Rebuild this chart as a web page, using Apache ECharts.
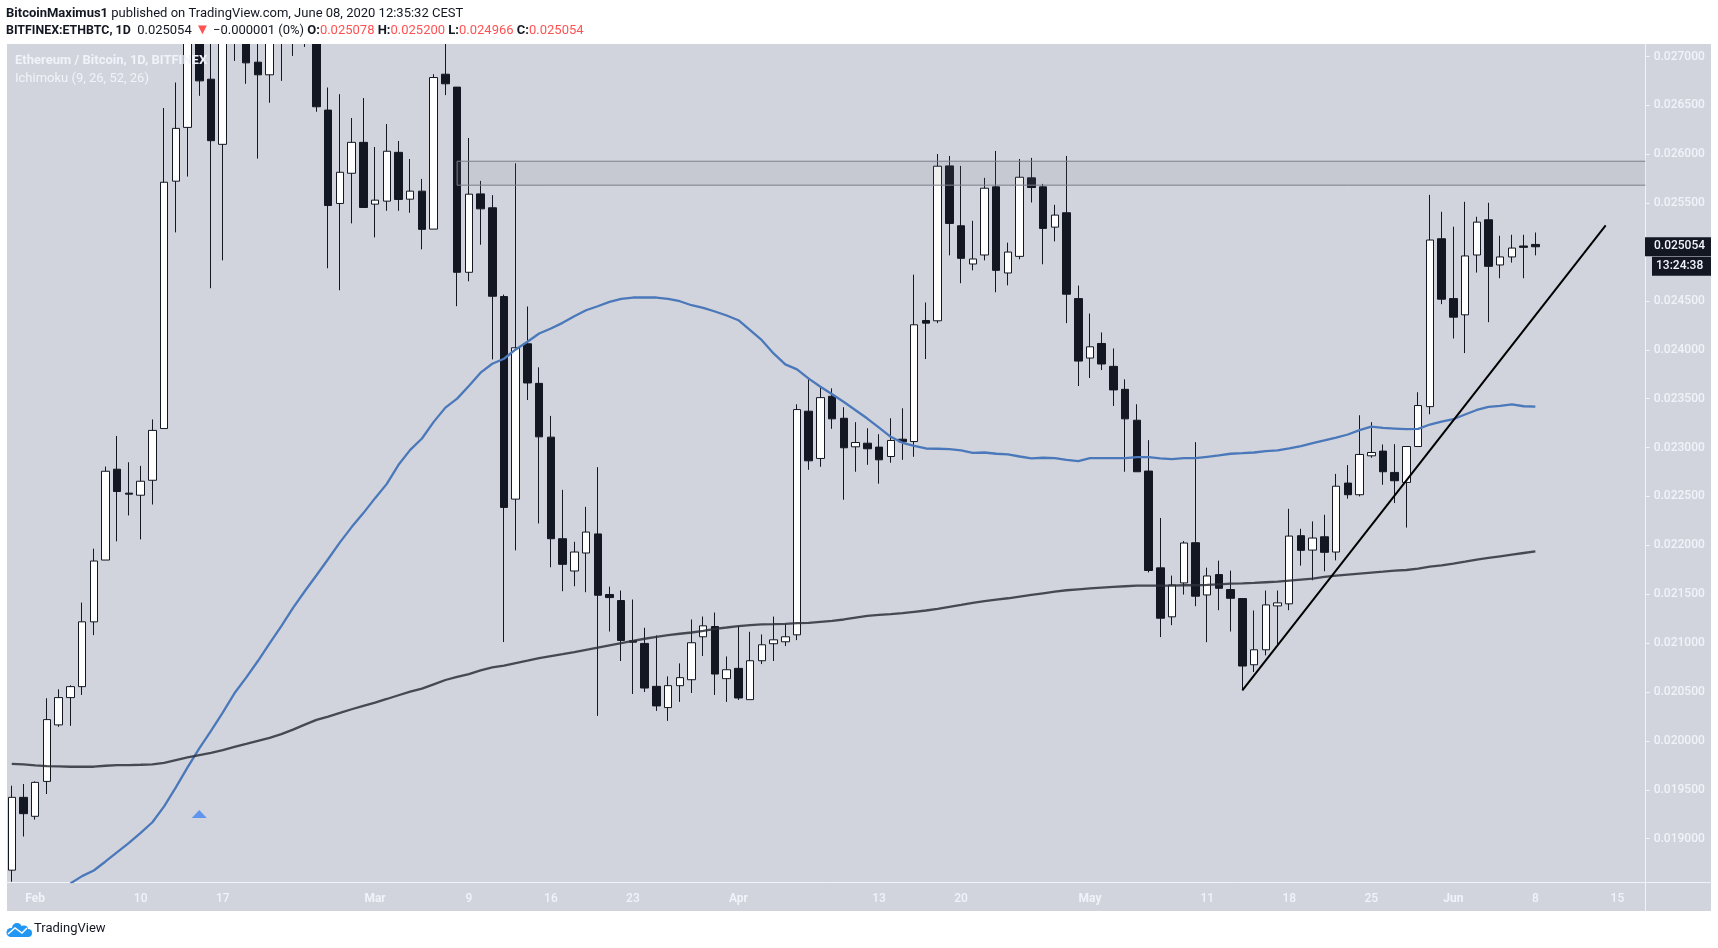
<!DOCTYPE html>
<html>
<head>
<meta charset="utf-8">
<title>ETHBTC 1D</title>
<script src="https://cdn.jsdelivr.net/npm/echarts@6/dist/echarts.min.js"></script>
<style>
html, body { margin: 0; padding: 0; background: #fff; }
#main { width: 1718px; height: 948px; }
</style>
</head>
<body>
<div id="main"></div>
<script>
// daily candles, 2020-01-30 to 2020-06-08. values above the top of the pane are estimates
const opens = [
    0.018678, 0.019423, 0.019229, 0.019586, 0.020164, 0.020443, 0.020555, 0.021218, 0.02185, 0.022779,
    0.022534, 0.022513, 0.022666, 0.023195, 0.025725, 0.026275, 0.0272, 0.026768, 0.026102, 0.0275,
    0.0275, 0.026942, 0.026813, 0.0273, 0.0275, 0.0274, 0.0274, 0.026452, 0.025497, 0.025806,
    0.026122, 0.02549, 0.025521, 0.02602, 0.025541, 0.025623, 0.025235, 0.026819, 0.026687, 0.024793,
    0.025595, 0.025453, 0.024545, 0.022473, 0.024062, 0.023657, 0.023107, 0.022068, 0.021738, 0.021922,
    0.022117, 0.021497, 0.021436, 0.021024, 0.020997, 0.020558, 0.020341, 0.020565, 0.020626, 0.021065,
    0.02117, 0.020637, 0.020742, 0.020422, 0.02082, 0.020994, 0.021014, 0.021085, 0.023372, 0.022889,
    0.023525, 0.0233, 0.023008, 0.023045, 0.023005, 0.022909, 0.023086, 0.023062, 0.0243, 0.024297,
    0.025881, 0.025269, 0.024878, 0.02497, 0.025667, 0.024786, 0.024956, 0.025759, 0.025667, 0.025255,
    0.025402, 0.024524, 0.023916, 0.024065, 0.023831, 0.023596, 0.02328, 0.02276, 0.02177, 0.021269,
    0.021616, 0.022027, 0.021493, 0.021701, 0.021548, 0.021456, 0.020779, 0.020932, 0.021381, 0.021402,
    0.022099, 0.021952, 0.022088, 0.021932, 0.022637, 0.022518, 0.022916, 0.022964, 0.022746, 0.022644,
    0.023011, 0.023419, 0.025136, 0.024524, 0.024358, 0.02497, 0.02533, 0.024868, 0.02495, 0.025062, 0.025078
];
const closes = [
    0.019423, 0.019256, 0.019576, 0.020218, 0.020443, 0.020555, 0.021218, 0.02184, 0.022758, 0.022551,
    0.022524, 0.022656, 0.023176, 0.025714, 0.026265, 0.0272, 0.026751, 0.026139, 0.0272, 0.0273,
    0.026935, 0.026813, 0.0272, 0.0275, 0.0274, 0.0276, 0.026486, 0.025476, 0.025816, 0.026122,
    0.025456, 0.025531, 0.026031, 0.025538, 0.025623, 0.025232, 0.026785, 0.026721, 0.024793, 0.025592,
    0.025442, 0.024548, 0.022388, 0.024021, 0.023661, 0.02311, 0.022068, 0.021806, 0.021932, 0.022136,
    0.02149, 0.021466, 0.021028, 0.02101, 0.020541, 0.020358, 0.020565, 0.020647, 0.021004, 0.021177,
    0.020684, 0.020728, 0.020439, 0.02082, 0.020983, 0.021034, 0.021065, 0.023389, 0.022865, 0.023511,
    0.023294, 0.022998, 0.023052, 0.022988, 0.022875, 0.023073, 0.023059, 0.024256, 0.024273, 0.025878,
    0.025293, 0.024936, 0.024929, 0.025653, 0.024813, 0.025, 0.025765, 0.02566, 0.025242, 0.025378,
    0.024569, 0.023885, 0.024031, 0.023855, 0.02359, 0.023294, 0.022753, 0.021743, 0.021255, 0.021595,
    0.022024, 0.02148, 0.021687, 0.021561, 0.021459, 0.020766, 0.020932, 0.021391, 0.021412, 0.022095,
    0.021949, 0.022075, 0.021929, 0.022605, 0.022518, 0.02293, 0.02295, 0.022753, 0.022661, 0.023011,
    0.02343, 0.025123, 0.024518, 0.024334, 0.02496, 0.025306, 0.024854, 0.02495, 0.025041, 0.025048, 0.025054
];
const highs = [
    0.019542, 0.019559, 0.019586, 0.020436, 0.020528, 0.020569, 0.021415, 0.021966, 0.022806, 0.023119,
    0.02285, 0.022813, 0.023288, 0.026473, 0.026734, 0.0274, 0.0274, 0.0274, 0.0274, 0.0278,
    0.0278, 0.0274, 0.0275, 0.0277, 0.0278, 0.0279, 0.0278, 0.026683, 0.026615, 0.026371,
    0.026575, 0.026075, 0.026309, 0.026136, 0.025952, 0.025748, 0.026819, 0.0274, 0.026687, 0.026167,
    0.025728, 0.025582, 0.024565, 0.025908, 0.024443, 0.023821, 0.023324, 0.022568, 0.022037, 0.022394,
    0.0228, 0.021578, 0.021538, 0.021446, 0.021157, 0.021079, 0.02066, 0.020793, 0.021242, 0.021272,
    0.021313, 0.020864, 0.021174, 0.021116, 0.021089, 0.021272, 0.021198, 0.023443, 0.023708, 0.023613,
    0.023606, 0.023413, 0.02326, 0.023198, 0.023137, 0.0233, 0.023402, 0.024769, 0.024484, 0.026003,
    0.025983, 0.025881, 0.02532, 0.025759, 0.026034, 0.025096, 0.025952, 0.025963, 0.025697, 0.025483,
    0.025983, 0.024657, 0.024371, 0.024178, 0.024014, 0.023698, 0.023443, 0.023076, 0.02228, 0.021691,
    0.022044, 0.023056, 0.021772, 0.021844, 0.021742, 0.021456, 0.021334, 0.021538, 0.021538, 0.022374,
    0.02217, 0.022245, 0.022313, 0.022731, 0.022821, 0.023331, 0.02326, 0.023032, 0.023035, 0.023011,
    0.023566, 0.025585, 0.025412, 0.025259, 0.025514, 0.025361, 0.025504, 0.025167, 0.025177, 0.025177, 0.0252
];
const lows = [
    0.01856, 0.019022, 0.019195, 0.019457, 0.020144, 0.020154, 0.02047, 0.021082, 0.02185, 0.022041,
    0.022306, 0.022061, 0.022418, 0.023195, 0.025201, 0.025772, 0.026598, 0.02463, 0.024915, 0.026955,
    0.026721, 0.025956, 0.026527, 0.026751, 0.027006, 0.027098, 0.026435, 0.024834, 0.024609, 0.025293,
    0.025456, 0.02515, 0.025422, 0.025422, 0.025402, 0.025028, 0.025235, 0.026605, 0.024446, 0.024701,
    0.025075, 0.023902, 0.021011, 0.021949, 0.023487, 0.022224, 0.021776, 0.021531, 0.021582, 0.021521,
    0.020256, 0.021119, 0.020817, 0.02048, 0.0205, 0.020307, 0.020205, 0.020399, 0.02049, 0.020868,
    0.02047, 0.020399, 0.020419, 0.020422, 0.020786, 0.020817, 0.02097, 0.021031, 0.022773, 0.022804,
    0.023192, 0.022467, 0.022753, 0.022824, 0.022631, 0.022845, 0.022875, 0.022906, 0.023906, 0.024273,
    0.024966, 0.024681, 0.024813, 0.024915, 0.024589, 0.02466, 0.024926, 0.025507, 0.024875, 0.025109,
    0.024273, 0.02363, 0.023712, 0.023793, 0.023426, 0.022753, 0.022753, 0.021723, 0.021062, 0.021184,
    0.021497, 0.021378, 0.02101, 0.021337, 0.021119, 0.020518, 0.020705, 0.020875, 0.020987, 0.021337,
    0.021793, 0.021643, 0.021735, 0.021847, 0.022478, 0.022501, 0.022896, 0.02262, 0.022433, 0.022182,
    0.023011, 0.023341, 0.024467, 0.024116, 0.023967, 0.02479, 0.024283, 0.024732, 0.024892, 0.024732, 0.024966
];

// the two moving averages, one value a day. the blue one starts below the pane
const blueLine = [
    null, null, null, null, null, 0.018542, 0.018617, 0.018675, 0.018767, 0.018862,
    0.018957, 0.019059, 0.019168, 0.019331, 0.019525, 0.019729, 0.019923, 0.020103, 0.02029, 0.020487,
    0.020647, 0.020817, 0.020997, 0.021174, 0.021361, 0.021531, 0.021694, 0.021861, 0.022031, 0.022187,
    0.02233, 0.022483, 0.022629, 0.022824, 0.022977, 0.023093, 0.023263, 0.023409, 0.023501, 0.02363,
    0.023766, 0.023858, 0.023909, 0.024004, 0.024082, 0.024167, 0.024218, 0.024276, 0.024344, 0.024405,
    0.024446, 0.02449, 0.024521, 0.024535, 0.024535, 0.024535, 0.024521, 0.024497, 0.024456, 0.024429,
    0.024392, 0.024351, 0.024303, 0.024201, 0.024099, 0.023963, 0.023851, 0.0238, 0.023705, 0.023623,
    0.023545, 0.023467, 0.023382, 0.023297, 0.023205, 0.02311, 0.023049, 0.023018, 0.022991, 0.022988,
    0.022984, 0.022971, 0.022947, 0.02295, 0.022937, 0.02293, 0.022909, 0.022889, 0.022896, 0.022892,
    0.022875, 0.022862, 0.022892, 0.022892, 0.022892, 0.022892, 0.022903, 0.022903, 0.022889, 0.022882,
    0.022892, 0.022892, 0.022906, 0.02292, 0.022937, 0.022943, 0.02295, 0.022964, 0.022971, 0.022991,
    0.023015, 0.023045, 0.023073, 0.023103, 0.023134, 0.023178, 0.023215, 0.023202, 0.023195, 0.023188,
    0.023192, 0.023236, 0.023266, 0.02329, 0.023338, 0.023385, 0.023416, 0.023426, 0.023443, 0.023423, 0.023419
];
const darkLine = [
    0.019766, 0.01976, 0.019749, 0.019742, 0.019739, 0.019736, 0.019736, 0.019736, 0.019746, 0.019753,
    0.019753, 0.019756, 0.01976, 0.019776, 0.019804, 0.019831, 0.019855, 0.019878, 0.019906, 0.01994,
    0.01997, 0.020001, 0.020031, 0.020069, 0.020116, 0.020167, 0.020215, 0.020249, 0.020286, 0.020324,
    0.020358, 0.020392, 0.020429, 0.020467, 0.020504, 0.020535, 0.020579, 0.020623, 0.020654, 0.020684,
    0.020722, 0.020752, 0.020769, 0.020796, 0.02082, 0.020847, 0.020868, 0.020888, 0.020909, 0.020932,
    0.020953, 0.020977, 0.021, 0.021024, 0.021045, 0.021065, 0.021082, 0.021096, 0.021109, 0.021126,
    0.021147, 0.02116, 0.021174, 0.021184, 0.021191, 0.021194, 0.021198, 0.021204, 0.021208, 0.021218,
    0.021228, 0.021242, 0.021262, 0.021279, 0.021289, 0.021296, 0.021306, 0.02132, 0.021334, 0.021351,
    0.021371, 0.021391, 0.021412, 0.021429, 0.021446, 0.021459, 0.021476, 0.021493, 0.02151, 0.021527,
    0.021541, 0.021551, 0.021561, 0.021568, 0.021575, 0.021582, 0.021589, 0.021589, 0.021589, 0.021589,
    0.021592, 0.021592, 0.021595, 0.021602, 0.021609, 0.021612, 0.021616, 0.021623, 0.021629, 0.02164,
    0.02165, 0.02166, 0.021677, 0.021691, 0.021701, 0.021711, 0.021721, 0.021731, 0.021742, 0.021748,
    0.021762, 0.021782, 0.021796, 0.021813, 0.021833, 0.021854, 0.021871, 0.021888, 0.021905, 0.021922, 0.021939
];

// drawings on top of the candles
const trendDates = ['2020-05-14', '2020-06-14'];
const trendValues = [0.020518, 0.025272];
const zoneStart = '2020-03-08';
const zoneTop = 0.025929;
const zoneBottom = 0.025684;
const markerDate = '2020-02-15';
const markerValue = 0.019253;

const tickDates = ['2020-02-01', '2020-02-10', '2020-02-17', '2020-03-01', '2020-03-09', '2020-03-16', '2020-03-23',
    '2020-04-01', '2020-04-13', '2020-04-20', '2020-05-01', '2020-05-11', '2020-05-18', '2020-05-25',
    '2020-06-01', '2020-06-08', '2020-06-15'];
const tickLabels = ['Feb', '10', '17', 'Mar', '9', '16', '23', 'Apr', '13', '20', 'May', '11', '18', '25', 'Jun', '8', '15'];
// 0.025000 sits under the price tag in the reference
const priceTicks = [0.019, 0.0195, 0.02, 0.0205, 0.021, 0.0215, 0.022, 0.0225, 0.023, 0.0235, 0.024, 0.0245, 0.0255, 0.026, 0.0265, 0.027];

const lastPrice = 0.025054;
const countdown = '13:24:38';

// categories run on past the last candle, to the right edge of the pane
const categories = [];
for (let i = 0; i < 140; i++) {
    categories.push(new Date(Date.UTC(2020, 0, 30 + i)).toISOString().slice(0, 10));
}
const candles = opens.map((o, i) => [o, closes[i], lows[i], highs[i]]);

const FONT = 'Roboto';
const DARK = '#131722';
const PANE = '#d1d4dc';
const AXIS_TEXT = '#f0f3fa';
const LOGO_BLUE = '#2196f3';

const chart = echarts.init(document.getElementById('main'));
const isTick = (index, value) => tickDates.includes(value);

chart.setOption({
    animation: false,
    backgroundColor: '#ffffff',
    textStyle: { fontFamily: FONT },
    title: {
        left: 6,
        top: 5,
        padding: 0,
        z: 6,
        text: '{b|BitcoinMaximus1} published on TradingView.com, June 08, 2020 12:35:32 CEST\n' +
            '{c|BITFINEX:ETHBTC, 1D}  0.025054 {tri|▼} −0.000001 (0%) {b|O:}{red|0.025078} {b|H:}{red|0.025200} {b|L:}{red|0.024966} {b|C:}{red|0.025054}',
        textStyle: {
            fontFamily: FONT,
            fontSize: 13,
            fontWeight: 'normal',
            color: DARK,
            lineHeight: 17,
            rich: {
                b: { fontFamily: FONT, fontSize: 13, fontWeight: 'bold', color: DARK, lineHeight: 17 },
                c: { fontFamily: FONT, fontSize: 12.4, fontWeight: 'bold', color: DARK, lineHeight: 17 },
                red: { fontFamily: FONT, fontSize: 13, color: '#ff5252', lineHeight: 17 },
                tri: { fontFamily: FONT, fontSize: 15, color: '#ff5252', lineHeight: 17 }
            }
        }
    },
    grid: { left: 5.9, right: 71.3, top: 44, bottom: 66 },
    xAxis: {
        type: 'category',
        data: categories,
        boundaryGap: true,
        axisLine: { onZero: false, lineStyle: { color: AXIS_TEXT, width: 1 } },
        axisTick: { interval: isTick, alignWithLabel: true, length: 4, lineStyle: { color: AXIS_TEXT } },
        axisLabel: {
            interval: isTick,
            margin: 11,
            color: AXIS_TEXT,
            fontSize: 12,
            fontWeight: 500,
            fontFamily: FONT,
            formatter: function (value) {
                const label = tickLabels[tickDates.indexOf(value)];
                return /\d/.test(label) ? label : '{m|' + label + '}';
            },
            rich: { m: { color: AXIS_TEXT, fontSize: 12, fontWeight: 'bold', fontFamily: FONT } }
        },
        splitLine: { show: false }
    },
    yAxis: {
        type: 'value',
        position: 'right',
        offset: -1,
        min: 0.018557,
        max: 0.027128,
        scale: true,
        axisLine: { show: true, lineStyle: { color: AXIS_TEXT, width: 1 } },
        axisTick: { show: true, length: 4, customValues: priceTicks, lineStyle: { color: AXIS_TEXT } },
        axisLabel: {
            customValues: priceTicks,
            margin: 8,
            padding: [2, 0, 0, 0],
            color: AXIS_TEXT,
            fontSize: 12,
            fontWeight: 500,
            fontFamily: FONT,
            formatter: (value) => value.toFixed(6)
        },
        splitLine: { show: false }
    },
    series: [
        {
            name: 'ETHBTC',
            type: 'candlestick',
            data: candles,
            barWidth: 8,
            z: 2,
            itemStyle: {
                color: '#ffffff',
                color0: DARK,
                borderColor: DARK,
                borderColor0: DARK,
                borderWidth: 1
            }
        },
        {
            name: 'MA blue',
            type: 'line',
            data: blueLine,
            showSymbol: false,
            z: 3,
            lineStyle: { color: '#4a78ba', width: 2.3 }
        },
        {
            name: 'MA dark',
            type: 'line',
            data: darkLine,
            showSymbol: false,
            z: 3,
            lineStyle: { color: '#2e3038', width: 2.3, opacity: 0.85 }
        },
        {
            name: 'zone',
            type: 'custom',
            data: [[zoneStart, zoneTop, zoneBottom]],
            encode: { x: 0, y: [1, 2] },
            z: 4,
            renderItem: function (params, api) {
                const topLeft = api.coord([api.value(0), api.value(1)]);
                const bottomLeft = api.coord([api.value(0), api.value(2)]);
                const right = params.coordSys.x + params.coordSys.width - 1.4;
                return {
                    type: 'group',
                    children: [
                        {
                            type: 'rect',
                            shape: { x: topLeft[0], y: topLeft[1], width: right - topLeft[0], height: bottomLeft[1] - topLeft[1] },
                            style: { fill: 'rgba(120,123,134,0.12)' }
                        },
                        {
                            // open on the right, the zone runs into the price scale
                            type: 'polyline',
                            shape: { points: [[right, topLeft[1]], topLeft, bottomLeft, [right, bottomLeft[1]]] },
                            style: { fill: null, stroke: '#7c7f8a', lineWidth: 1 }
                        }
                    ]
                };
            }
        },
        {
            name: 'trend',
            type: 'line',
            data: trendDates.map((d, i) => [d, trendValues[i]]),
            showSymbol: false,
            z: 5,
            lineStyle: { color: '#000000', width: 2 }
        },
        {
            name: 'marker',
            type: 'scatter',
            data: [[markerDate, markerValue]],
            symbol: 'triangle',
            symbolSize: [15, 8],
            z: 5,
            itemStyle: { color: '#4285f4' }
        }
    ],
    graphic: {
        elements: [
            { type: 'rect', z: -100, shape: { x: 7, y: 44, width: 1704, height: 867 }, style: { fill: PANE } },
            // candles that run off the top of the pane are cut here, under the title
            { type: 'rect', z: 5, shape: { x: 0, y: 0, width: 1718, height: 44 }, style: { fill: '#ffffff' } },
            // the axis lines run on to the pane edges
            { type: 'line', z: 1, shape: { x1: 1645, y1: 882.5, x2: 1711, y2: 882.5 }, style: { stroke: AXIS_TEXT, lineWidth: 1 } },
            { type: 'line', z: 1, shape: { x1: 1645.5, y1: 882, x2: 1645.5, y2: 911 }, style: { stroke: AXIS_TEXT, lineWidth: 1 } },
            { type: 'text', z: 100, x: 15, y: 54.5, style: { text: 'Ethereum / Bitcoin, 1D, BITFINEX', fill: AXIS_TEXT, font: 'bold 13px ' + FONT } },
            { type: 'text', z: 100, x: 15, y: 72, style: { text: 'Ichimoku (9, 26, 52, 26)', fill: AXIS_TEXT, font: '13px ' + FONT } },
            // logo: a cloud with a white zigzag through it
            { type: 'circle', z: 100, shape: { cx: 11, cy: 932.5, r: 4.5 }, style: { fill: LOGO_BLUE } },
            { type: 'circle', z: 100, shape: { cx: 17, cy: 928, r: 5 }, style: { fill: LOGO_BLUE } },
            { type: 'circle', z: 100, shape: { cx: 24, cy: 929.5, r: 4 }, style: { fill: LOGO_BLUE } },
            { type: 'circle', z: 100, shape: { cx: 28, cy: 933, r: 4 }, style: { fill: LOGO_BLUE } },
            { type: 'rect', z: 100, shape: { x: 11, y: 930, width: 17, height: 7 }, style: { fill: LOGO_BLUE } },
            {
                type: 'polyline', z: 101,
                shape: { points: [[8, 934], [15, 928], [22, 933], [27, 928]] },
                style: { stroke: '#ffffff', fill: 'none', lineWidth: 1.5 }
            },
            { type: 'text', z: 100, x: 34, y: 922, style: { text: 'TradingView', fill: DARK, font: '13px ' + FONT } }
        ]
    }
});

// price tag and countdown sit at the last price on the scale
const priceY = chart.convertToPixel({ yAxisIndex: 0 }, lastPrice);
chart.setOption({
    graphic: {
        elements: [
            { id: 'tagBox', type: 'rect', z: 100, shape: { x: 1645, y: priceY - 9.5, width: 66, height: 19 }, style: { fill: DARK } },
            { id: 'tagText', type: 'text', z: 101, x: 1654, y: priceY - 6.5, style: { text: lastPrice.toFixed(6), fill: AXIS_TEXT, font: '500 12px ' + FONT } },
            { id: 'timeBox', type: 'rect', z: 100, shape: { x: 1652, y: priceY + 10, width: 59, height: 19 }, style: { fill: DARK } },
            { id: 'timeText', type: 'text', z: 101, x: 1656, y: priceY + 13, style: { text: countdown, fill: AXIS_TEXT, font: '500 12px ' + FONT } }
        ]
    }
});
</script>
</body>
</html>
